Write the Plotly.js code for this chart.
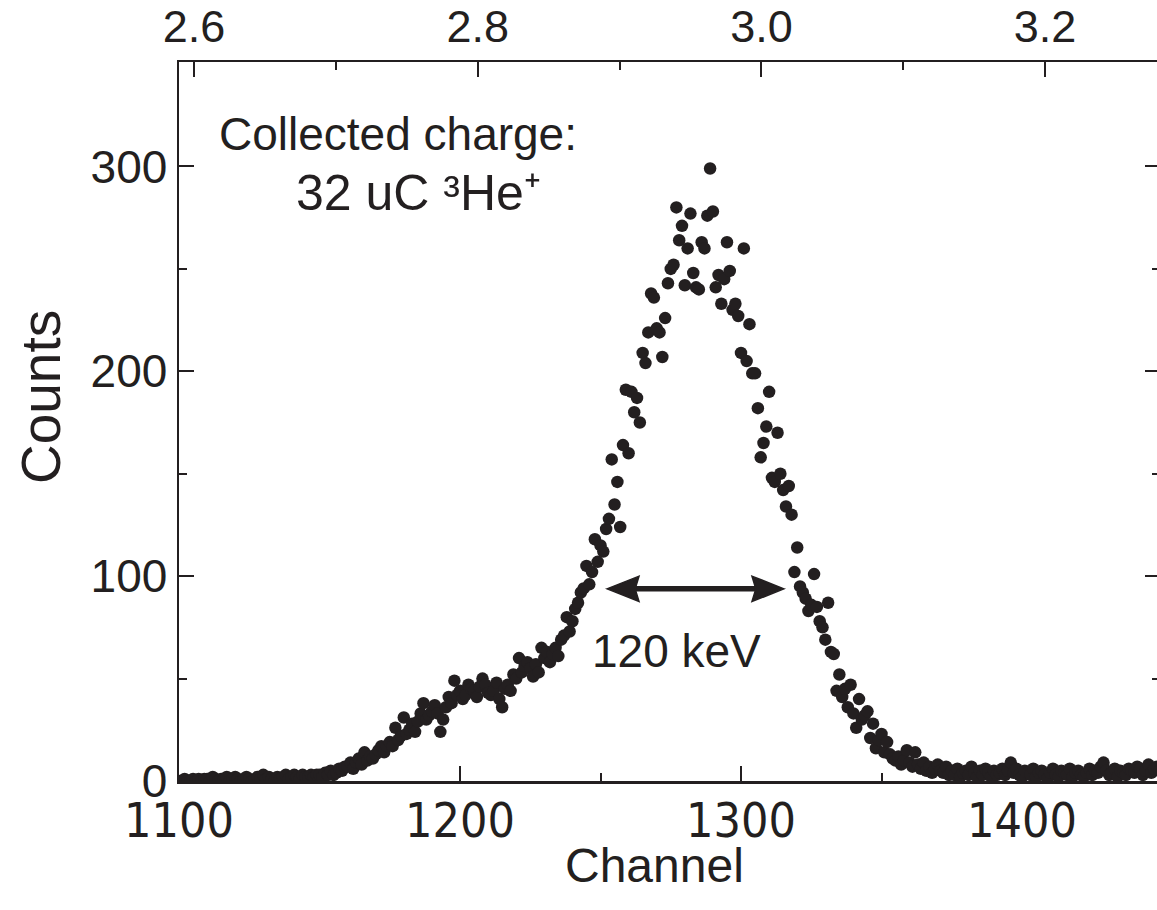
<!DOCTYPE html>
<html>
<head>
<meta charset="utf-8">
<script src="https://cdn.plot.ly/plotly-3.0.1.min.js"></script>
<style>
html,body{margin:0;padding:0;overflow:hidden;background:#fff;}
#chart{width:1160px;height:910px;}
</style>
</head>
<body>
<div id="chart"></div>
<script>
// Channel numbers (bottom axis)
const channels = [
1100,1101,1102,1103,1104,1105,1106,1107,1108,1109,
1110,1111,1112,1113,1114,1115,1116,1117,1118,1119,
1120,1121,1122,1123,1124,1125,1126,1127,1128,1129,
1130,1131,1132,1133,1134,1135,1136,1137,1138,1139,
1140,1141,1142,1143,1144,1145,1146,1147,1148,1149,
1150,1151,1152,1153,1154,1155,1156,1157,1158,1159,
1160,1161,1162,1163,1164,1165,1166,1167,1168,1169,
1170,1171,1172,1173,1174,1175,1176,1177,1178,1179,
1180,1181,1182,1183,1184,1185,1186,1187,1188,1189,
1190,1191,1192,1193,1194,1195,1196,1197,1198,1199,
1200,1201,1202,1203,1204,1205,1206,1207,1208,1209,
1210,1211,1212,1213,1214,1215,1216,1217,1218,1219,
1220,1221,1222,1223,1224,1225,1226,1227,1228,1229,
1230,1231,1232,1233,1234,1235,1236,1237,1238,1239,
1240,1241,1242,1243,1244,1245,1246,1247,1248,1249,
1250,1251,1252,1253,1254,1255,1256,1257,1258,1259,
1260,1261,1262,1263,1264,1265,1266,1267,1268,1269,
1270,1271,1272,1273,1274,1275,1276,1277,1278,1279,
1280,1281,1282,1283,1284,1285,1286,1287,1288,1289,
1290,1291,1292,1293,1294,1295,1296,1297,1298,1299,
1300,1301,1302,1303,1304,1305,1306,1307,1308,1309,
1310,1311,1312,1313,1314,1315,1316,1317,1318,1319,
1320,1321,1322,1323,1324,1325,1326,1327,1328,1329,
1330,1331,1332,1333,1334,1335,1336,1337,1338,1339,
1340,1341,1342,1343,1344,1345,1346,1347,1348,1349,
1350,1351,1352,1353,1354,1355,1356,1357,1358,1359,
1360,1361,1362,1363,1364,1365,1366,1367,1368,1369,
1370,1371,1372,1373,1374,1375,1376,1377,1378,1379,
1380,1381,1382,1383,1384,1385,1386,1387,1388,1389,
1390,1391,1392,1393,1394,1395,1396,1397,1398,1399,
1400,1401,1402,1403,1404,1405,1406,1407,1408,1409,
1410,1411,1412,1413,1414,1415,1416,1417,1418,1419,
1420,1421,1422,1423,1424,1425,1426,1427,1428,1429,
1430,1431,1432,1433,1434,1435,1436,1437,1438,1439,
1440,1441,1442,1443,1444,1445,1446,1447,1448,1449
];

// Counts per channel
const counts = [
0,0,1,0,0,1,0,1,0,1,
1,0,2,1,0,1,1,2,0,1,
2,1,0,1,2,1,0,1,2,1,
3,1,2,1,0,2,1,2,3,1,
2,3,2,1,3,2,2,3,2,3,
3,2,4,3,5,3,4,6,5,7,
7,9,6,9,11,8,14,10,12,11,
13,15,17,14,17,19,17,26,20,22,
31,23,25,28,24,29,33,38,30,32,
34,37,33,24,30,36,41,38,49,42,
44,40,42,47,45,44,41,46,50,47,
43,42,44,48,40,36,45,47,44,52,
50,60,53,56,58,55,51,57,53,65,
60,63,58,62,65,61,69,71,80,73,
78,84,87,92,94,105,96,102,118,107,
115,112,123,128,157,135,146,124,164,191,
160,190,180,187,175,209,204,219,238,236,
221,219,207,226,243,250,252,280,264,271,
242,260,277,248,241,240,263,260,276,299,
278,241,247,233,245,263,249,230,233,227,
209,260,205,223,199,199,182,158,165,173,
190,148,146,170,150,142,134,144,130,102,
114,95,92,89,83,86,101,85,78,75,
69,87,63,62,44,52,41,45,36,47,
33,26,40,30,32,34,21,28,16,20,
23,14,19,13,11,10,12,8,10,15,
9,7,14,8,6,9,5,7,4,6,
8,5,4,7,3,5,3,6,2,4,
5,3,7,4,2,5,3,6,4,2,
5,3,4,6,3,5,9,4,6,3,
2,5,4,3,6,2,4,5,3,1,
4,6,3,2,5,4,3,6,2,4,
5,3,2,4,6,3,5,4,7,9,
5,3,4,6,2,5,4,3,6,5,
4,7,6,3,5,8,4,6,7,5
];

// Tick labels
const channelTicks = [1100, 1200, 1300, 1400];
const channelTickText = ['1100', '1200', '1300', '1400'];
const energyTicks = [2.6, 2.8, 3.0, 3.2];
const energyTickText = ['2.6', '2.8', '3.0', '3.2'];
const countTicks = [0, 100, 200, 300];
const countTickText = ['0', '100', '200', '300'];

// Texts
const xTitle = 'Channel';
const yTitle = 'Counts';
const chargeLine1 = 'Collected charge:';
const chargeLine2 = '32 uC ³He⁺';
const fwhmLabel = '120 keV';
// FWHM arrow ends (channel) and level (counts)
const fwhmStart = 1252.3, fwhmEnd = 1315.3, fwhmLevel = 93.8;

const ink = '#231f20';
const sans = 'Liberation Sans, Arial, Helvetica, sans-serif';
const narrow = 'Liberation Sans Narrow, Arial Narrow, DejaVu Sans Condensed, Liberation Sans, Arial, sans-serif';

// arrow head geometry (style): length in channels, half height in counts
const headLen = 11.4, headHalf = 6.2, headNotch = 0.88;

const trace = {
  x: channels, y: counts,
  type: 'scatter', mode: 'markers',
  marker: {size: 12.5, color: ink, line: {width: 0}},
  hoverinfo: 'x+y', showlegend: false
};

const axisCommon = {
  showline: true, linecolor: ink, linewidth: 2.5,
  ticks: 'inside', tickcolor: ink, tickwidth: 2, ticklen: 15,
  showgrid: false, zeroline: false
};

function headPath(tip, dir) {
  // dir = +1 head points left (tip at left), -1 points right
  const back = tip + dir * headLen;
  const notch = tip + dir * headLen * headNotch;
  return 'M' + tip + ',' + fwhmLevel +
         ' L' + back + ',' + (fwhmLevel + headHalf) +
         ' L' + notch + ',' + fwhmLevel +
         ' L' + back + ',' + (fwhmLevel - headHalf) + ' Z';
}

const layout = {
  width: 1160, height: 910,
  margin: {l: 179, r: 0, t: 62, b: 129, pad: 0},
  paper_bgcolor: '#fff', plot_bgcolor: '#fff',
  showlegend: false,
  xaxis: Object.assign({}, axisCommon, {
    range: [1100, 1449.1],
    tickmode: 'array', tickvals: channelTicks, ticktext: channelTickText,
    tickfont: {family: narrow, size: 48, color: ink},
    ticklabelstandoff: -4,
    minor: {tickmode: 'array', tickvals: [1150, 1250, 1350], ticks: 'inside', ticklen: 8, tickwidth: 2, tickcolor: ink, showgrid: false},
    mirror: false
  }),
  xaxis2: Object.assign({}, axisCommon, {
    overlaying: 'x', side: 'top', anchor: 'y',
    range: [2.5894, 3.2810],
    tickmode: 'array', tickvals: energyTicks, ticktext: energyTickText,
    tickfont: {family: sans, size: 45, color: ink},
    minor: {tickmode: 'array', tickvals: [2.7, 2.9, 3.1], ticks: 'inside', ticklen: 8, tickwidth: 2, tickcolor: ink, showgrid: false}
  }),
  yaxis: Object.assign({}, axisCommon, {
    range: [0, 351],
    tickmode: 'array', tickvals: countTicks, ticktext: countTickText,
    tickfont: {family: sans, size: 46, color: ink},
    minor: {tickmode: 'array', tickvals: [50, 150, 250], ticks: 'inside', ticklen: 8, tickwidth: 2, tickcolor: ink, showgrid: false},
    mirror: 'ticks'
  }),
  shapes: [
    {type: 'line', xref: 'x', yref: 'y',
     x0: fwhmStart + headLen * 0.8, x1: fwhmEnd - headLen * 0.8, y0: fwhmLevel, y1: fwhmLevel,
     line: {color: ink, width: 5.5}},
    {type: 'path', xref: 'x', yref: 'y', path: headPath(fwhmStart, 1),
     fillcolor: ink, line: {color: ink, width: 1.5}},
    {type: 'path', xref: 'x', yref: 'y', path: headPath(fwhmEnd, -1),
     fillcolor: ink, line: {color: ink, width: 1.5}}
  ],
  annotations: [
    {xref: 'paper', yref: 'paper', x: 0.4842, y: -0.118, text: xTitle, showarrow: false,
     font: {family: sans, size: 48, color: ink}, xanchor: 'center', yanchor: 'middle'},
    {xref: 'paper', yref: 'paper', x: -0.1407, y: 0.534, text: yTitle, showarrow: false, textangle: -90,
     font: {family: sans, size: 55, color: ink}, xanchor: 'center', yanchor: 'middle'},
    {xref: 'x', yref: 'y', x: 1177.8, y: 316, text: chargeLine1, showarrow: false,
     font: {family: sans, size: 46, color: ink}, xanchor: 'center', yanchor: 'middle'},
    {xref: 'x', yref: 'y', x: 1185.3, y: 287, text: chargeLine2, showarrow: false,
     font: {family: sans, size: 50, color: ink}, xanchor: 'center', yanchor: 'middle'},
    {xref: 'x', yref: 'y', x: 1277.2, y: 63.5, text: fwhmLabel, showarrow: false,
     font: {family: sans, size: 46, color: ink}, xanchor: 'center', yanchor: 'middle'}
  ]
};

// invisible helper trace so the top energy axis is laid out
const energyTrace = {x: [2.6], y: [null], xaxis: 'x2', yaxis: 'y', type: 'scatter', mode: 'markers', hoverinfo: 'skip', showlegend: false};

Plotly.newPlot('chart', [trace, energyTrace], layout, {displayModeBar: false, staticPlot: true});
</script>
</body>
</html>
